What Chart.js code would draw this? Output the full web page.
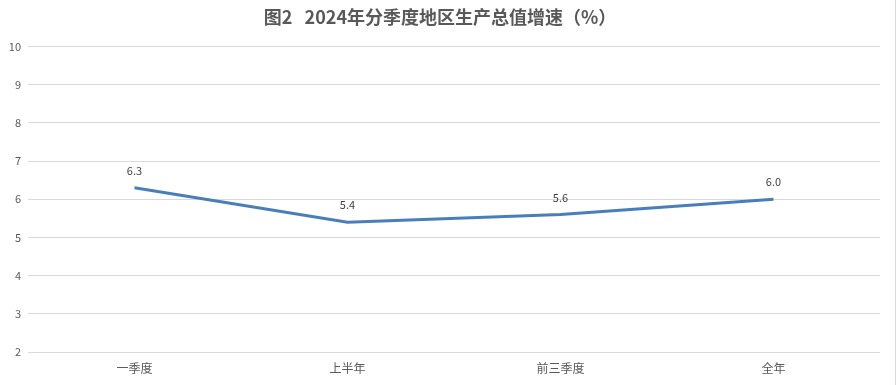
<!DOCTYPE html>
<html>
<head>
<meta charset="utf-8">
<script src="https://cdn.jsdelivr.net/npm/chart.js@4"></script>
<style>
  html, body { margin: 0; padding: 0; background: #fff; }
  #wrap { width: 896px; height: 385px; }
</style>
</head>
<body>
<div id="wrap"><canvas id="grafico" width="896" height="385"></canvas></div>
<script>
const categorias = ['一季度', '上半年', '前三季度', '全年'];
const valores = [6.3, 5.4, 5.6, 6.0];
const titulo = '图2   2024年分季度地区生产总值增速（%）';

const fonte = '"Noto Sans CJK SC", "Microsoft YaHei", sans-serif';

// rótulos de dados acima dos pontos + borda direita do gráfico
const rotulos = {
  id: 'rotulos',
  afterDatasetsDraw(chart) {
    const ctx = chart.ctx;
    const meta = chart.getDatasetMeta(0);
    ctx.save();
    ctx.font = '11px ' + fonte;
    ctx.fillStyle = '#404040';
    ctx.textAlign = 'center';
    ctx.textBaseline = 'middle';
    meta.data.forEach((pt, i) => {
      ctx.fillText(valores[i].toFixed(1), pt.x, pt.y - 17);
    });
    ctx.strokeStyle = '#d9d9d9';
    ctx.lineWidth = 1;
    ctx.beginPath();
    ctx.moveTo(chart.width - 0.5, 0);
    ctx.lineTo(chart.width - 0.5, chart.height);
    ctx.stroke();
    ctx.restore();
  }
};

new Chart(document.getElementById('grafico'), {
  type: 'line',
  data: {
    labels: categorias,
    datasets: [{
      data: valores,
      borderColor: '#4a7ebb',
      borderWidth: 3,
      pointRadius: 0,
      tension: 0,
      fill: false
    }]
  },
  options: {
    responsive: false,
    animation: false,
    layout: { padding: { left: 0, right: 16, bottom: 0, top: 0 } },
    plugins: {
      legend: { display: false },
      tooltip: { enabled: false },
      title: {
        display: true,
        text: titulo,
        color: '#595959',
        font: { family: fonte, size: 18, weight: 'bold' },
        padding: { top: 6, bottom: 19 }
      }
    },
    scales: {
      x: {
        offset: true,
        grid: { display: false, drawTicks: false },
        border: { display: false },
        ticks: { color: '#595959', font: { family: fonte, size: 12 }, padding: 9 },
        afterFit: s => { s.height = 33; }
      },
      y: {
        min: 2,
        max: 10,
        grid: { color: '#d9d9d9', drawTicks: false, lineWidth: 1 },
        border: { display: false },
        ticks: { stepSize: 1, color: '#595959', font: { family: fonte, size: 11 }, padding: 7 },
        afterFit: s => { s.width = 28; }
      }
    }
  },
  plugins: [rotulos]
});
</script>
</body>
</html>
